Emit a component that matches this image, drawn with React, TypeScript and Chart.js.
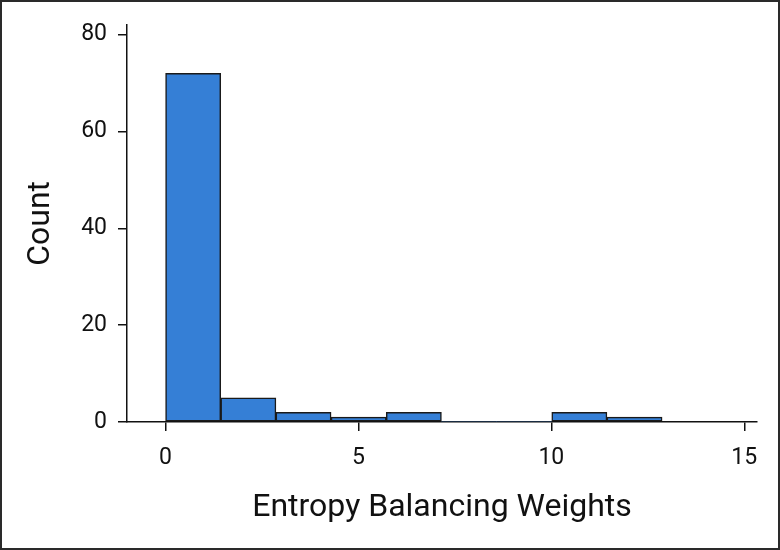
import React, { useEffect, useRef } from "react";
import { Chart, registerables } from "chart.js";

Chart.register(...registerables);

const binWidth = 1.43;
const binStarts = [0, 1.43, 2.86, 4.29, 5.72, 7.15, 8.58, 10.01, 11.44];
const counts = [72, 5, 2, 1, 2, 0, 0, 2, 1];
const xTicks = [0, 5, 10, 15];
const yTicks = [0, 20, 40, 60, 80];
const xTitle = "Entropy Balancing Weights";
const yTitle = "Count";

const FONT = "Roboto, 'Liberation Sans', sans-serif";

export default function App() {
  const ref = useRef<HTMLCanvasElement | null>(null);

  useEffect(() => {
    const canvas = ref.current;
    if (!canvas) return;

    const framePlugin = {
      id: "frame",
      beforeDraw(chart: any) {
        const ctx = chart.ctx;
        ctx.save();
        ctx.fillStyle = "#ffffff";
        ctx.fillRect(0, 0, chart.width, chart.height);
        ctx.restore();
      },
      afterDraw(chart: any) {
        const ctx = chart.ctx;
        const area = chart.chartArea;
        ctx.save();
        ctx.strokeStyle = "#2a2a2a";
        ctx.lineWidth = 2;
        ctx.strokeRect(1, 1, chart.width - 2, chart.height - 2);
        ctx.fillStyle = "#111111";
        ctx.font = `32px ${FONT}`;
        ctx.textAlign = "center";
        ctx.textBaseline = "middle";
        ctx.fillText(xTitle, (area.left + area.right) / 2, 508);
        ctx.translate(41, (area.top + area.bottom) / 2);
        ctx.rotate(-Math.PI / 2);
        ctx.fillText(yTitle, 0, 0);
        ctx.restore();
      },
    };

    const chart = new Chart(canvas, {
      type: "bar",
      data: {
        datasets: [
          {
            data: binStarts.map((s, i) => ({ x: s + binWidth / 2, y: counts[i] })),
            backgroundColor: "#357fd6",
            borderColor: "#1a1a1a",
            borderWidth: (c: any) => (counts[c.dataIndex] > 0 ? 1.5 : 0),
            borderSkipped: false,
            barPercentage: 1,
            categoryPercentage: 1,
          },
        ],
      },
      options: {
        responsive: false,
        animation: false,
        events: [],
        layout: { padding: { top: 22, right: 23, left: 0, bottom: 0 } },
        plugins: { legend: { display: false }, tooltip: { enabled: false } },
        scales: {
          x: {
            type: "linear",
            offset: false,
            min: -1.0,
            max: 15.33,
            afterBuildTicks: (s: any) => {
              s.ticks = xTicks.map((v) => ({ value: v }));
            },
            afterFit: (s: any) => {
              s.height = 128;
            },
            ticks: {
              color: "#111111",
              font: { family: FONT, size: 23 },
              padding: 13,
              maxRotation: 0,
              autoSkip: false,
            },
            grid: {
              display: true,
              offset: false,
              drawOnChartArea: false,
              drawTicks: true,
              tickLength: 9,
              color: "#111111",
              lineWidth: 1.5,
            },
            border: { display: true, color: "#111111", width: 1.5 },
          },
          y: {
            type: "linear",
            min: 0,
            max: 82.05,
            afterBuildTicks: (s: any) => {
              s.ticks = yTicks.map((v) => ({ value: v }));
            },
            afterFit: (s: any) => {
              s.width = 127;
            },
            ticks: {
              color: "#111111",
              font: { family: FONT, size: 23 },
              padding: 11,
              autoSkip: false,
            },
            grid: {
              display: true,
              drawOnChartArea: false,
              drawTicks: true,
              tickLength: 9,
              color: "#111111",
              lineWidth: 1.5,
            },
            border: { display: true, color: "#111111", width: 1.5 },
          },
        },
      },
      plugins: [framePlugin],
    } as any);

    return () => chart.destroy();
  }, []);

  return (
    <div style={{ position: "absolute", left: 0, top: 0, width: 780, height: 550 }}>
      <canvas ref={ref} width={780} height={550} style={{ display: "block" }} />
    </div>
  );
}
